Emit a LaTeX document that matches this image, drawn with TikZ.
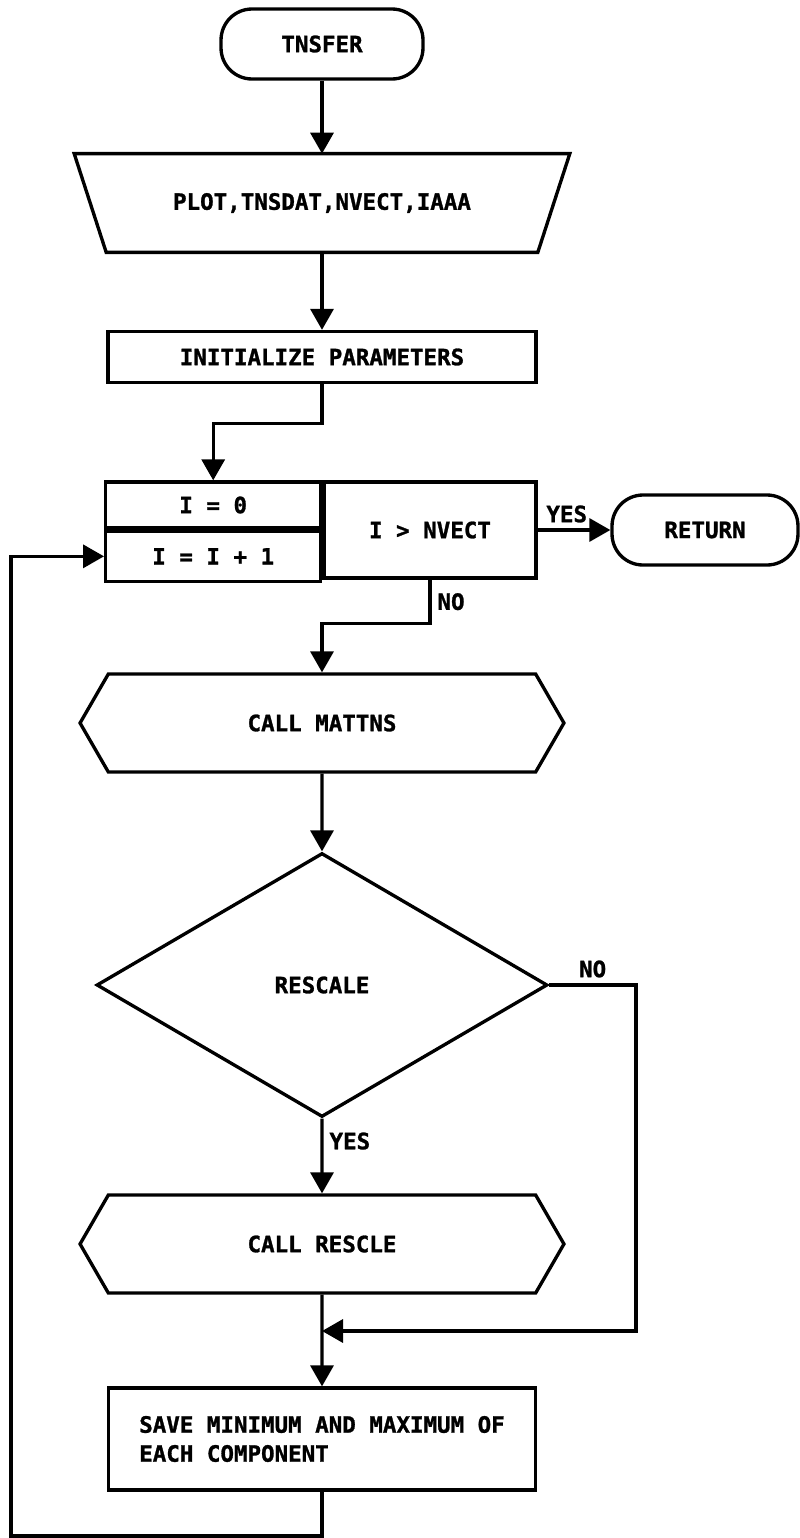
\documentclass[tikz,border=0pt]{standalone}
\usepackage{fontspec}
\setmonofont{DejaVu Sans Mono}[BoldFeatures={FakeBold=1.2}]
\usepackage{tikz}
\usetikzlibrary{positioning,shapes.geometric,shapes.symbols,arrows.meta}

\begin{document}
\begin{tikzpicture}[
  x=0.02cm, y=-0.02cm,
  every node/.style={font=\ttfamily\bfseries\fontsize{12.8}{16.5}\selectfont},
  box/.style={draw, line width=1.9pt, minimum width=8.56cm, minimum height=1.02cm, inner sep=0pt, align=center},
  term/.style={box, rounded corners=0.62cm, minimum width=4.04cm, minimum height=1.4cm},
  inbox/.style={minimum width=9.9cm, minimum height=1.96cm, inner sep=0pt},
  hexa/.style={draw, line width=1.9pt, signal, signal to=west and east, signal pointer angle=120,
    minimum width=9.68cm, minimum height=1.96cm, inner sep=0pt},
  cond/.style={draw, line width=1.9pt, diamond, minimum width=9.02cm, minimum height=5.28cm, inner sep=0pt},
  arr/.style={-{Triangle[length=0.42cm,width=0.46cm]}, line width=1.9pt}
]
\useasboundingbox (0,0) rectangle (799,1538);

% Main column
\node[term] (start) at (322,44) {TNSFER};
\node[inbox] (input) at (322,203) {PLOT,TNSDAT,NVECT,IAAA};
\draw[line width=1.9pt] (input.north west) -- (input.north east)
  -- ([xshift=-0.64cm]input.south east) -- ([xshift=0.64cm]input.south west) -- cycle;
\node[box] (init) at (322,357) {INITIALIZE PARAMETERS};

% Loop box
\node[box, minimum width=4.24cm, minimum height=1.92cm] (test) at (430,530) {I > NVECT};
\node[box, minimum width=4.3cm, minimum height=0.92cm, anchor=north east] (zero) at (test.north west) {I = 0};
\node[box, minimum width=4.3cm, minimum height=1.0cm, anchor=north] (incr) at (zero.south) {I = I + 1};
\node[term, minimum width=3.72cm] (return) at (705,530) {RETURN};

% Loop body
\node[hexa] (mattns) at (322,723) {CALL MATTNS};
\node[cond] (rescale) at (322,985) {RESCALE};
\node[hexa] (rescle) at (322,1244) {CALL RESCLE};
\node[box, minimum width=8.54cm, minimum height=2.04cm, align=left] (save) at (322,1439)
  {SAVE MINIMUM AND MAXIMUM OF\\EACH COMPONENT};

\coordinate (merge) at (322,1331);
\coordinate (bend) at (11,1536);

% Arrows
\draw[arr] (start) -- (input);
\draw[arr] (input) -- (init);
\draw[arr] (init.south) -- ++(0,39) -| (zero.north);
\draw[arr] (test) -- node[above, pos=0.4] {YES} (return);
\draw[arr] (test.south) -- node[right] {NO} ++(0,44) -| (mattns.north);
\draw[arr] (mattns) -- (rescale);
\draw[arr] (rescale) -- node[right, pos=0.3] {YES} (rescle);
\draw[arr] (rescale.east) -- node[above] {NO} ++(87,0) |- (merge);
\draw[arr] (rescle) -- (save);
\draw[arr] (save.south) |- (bend) |- (incr.west);
\end{tikzpicture}
\end{document}
